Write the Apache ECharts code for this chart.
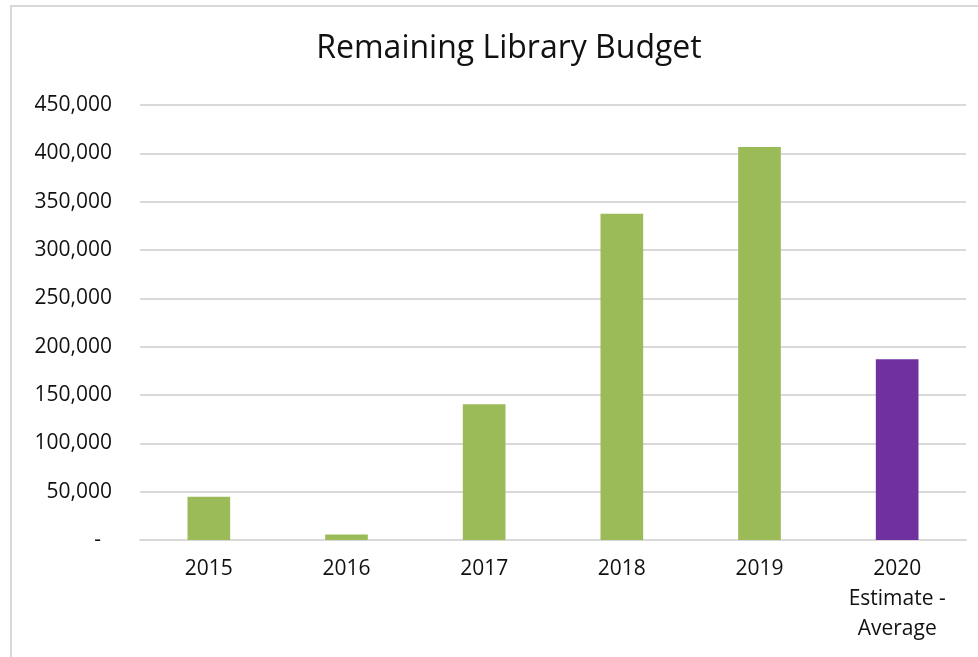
<!DOCTYPE html>
<html>
<head>
<meta charset="utf-8">
<title>Remaining Library Budget</title>
<script src="https://cdn.jsdelivr.net/npm/echarts@6/dist/echarts.min.js"></script>
<style>
  html, body { margin: 0; padding: 0; background: #ffffff; }
  #chart { width: 978px; height: 657px; }
</style>
</head>
<body>
<div id="chart"></div>
<script>
// Remaining budget per year; the last column is an estimate
const categories = ['2015', '2016', '2017', '2018', '2019', '2020\nEstimate -\nAverage'];
const remaining = [44800, 5800, 140500, 337500, 406500, 187000];
const yTicks = { min: 0, max: 450000, interval: 50000 };

const ACTUAL_COLOR = '#9BBB59';
const ESTIMATE_COLOR = '#7030A0';
const GRID_COLOR = '#D9D9D9';
const TEXT_COLOR = '#111111';
const FONT = '"Open Sans", "Noto Sans", sans-serif';

const chart = echarts.init(document.getElementById('chart'), null, { renderer: 'canvas' });

// zero is shown as a dash, accounting style
const fmt = v => v === 0 ? '-  ' : v.toLocaleString('en-US');

chart.setOption({
  animation: false,
  backgroundColor: '#ffffff',
  title: {
    text: 'Remaining Library Budget',
    left: 504,
    textAlign: 'center',
    top: 28,
    textStyle: { fontFamily: FONT, fontSize: 32, fontWeight: 'normal', color: TEXT_COLOR }
  },
  graphic: [{
    type: 'rect',
    shape: { x: 11, y: 6, width: 1000, height: 700 },
    style: { fill: 'none', stroke: GRID_COLOR, lineWidth: 2 },
    silent: true
  }],
  grid: { left: 140, right: 12, top: 105, bottom: 117, containLabel: false },
  xAxis: {
    type: 'category',
    data: categories,
    axisLine: { show: true, lineStyle: { color: GRID_COLOR, width: 2 } },
    axisTick: { show: false },
    axisLabel: {
      fontFamily: FONT, fontSize: 21, color: TEXT_COLOR,
      lineHeight: 30, margin: 14, interval: 0
    }
  },
  yAxis: {
    type: 'value',
    min: yTicks.min,
    max: yTicks.max,
    interval: yTicks.interval,
    axisLine: { show: false },
    axisTick: { show: false },
    splitLine: { show: true, lineStyle: { color: GRID_COLOR, width: 2 } },
    axisLabel: {
      fontFamily: FONT, fontSize: 21, color: TEXT_COLOR,
      margin: 28, formatter: fmt
    }
  },
  series: [{
    type: 'bar',
    data: remaining,
    barWidth: '31%',
    itemStyle: {
      color: p => p.dataIndex === categories.length - 1 ? ESTIMATE_COLOR : ACTUAL_COLOR
    }
  }]
});
</script>
</body>
</html>
